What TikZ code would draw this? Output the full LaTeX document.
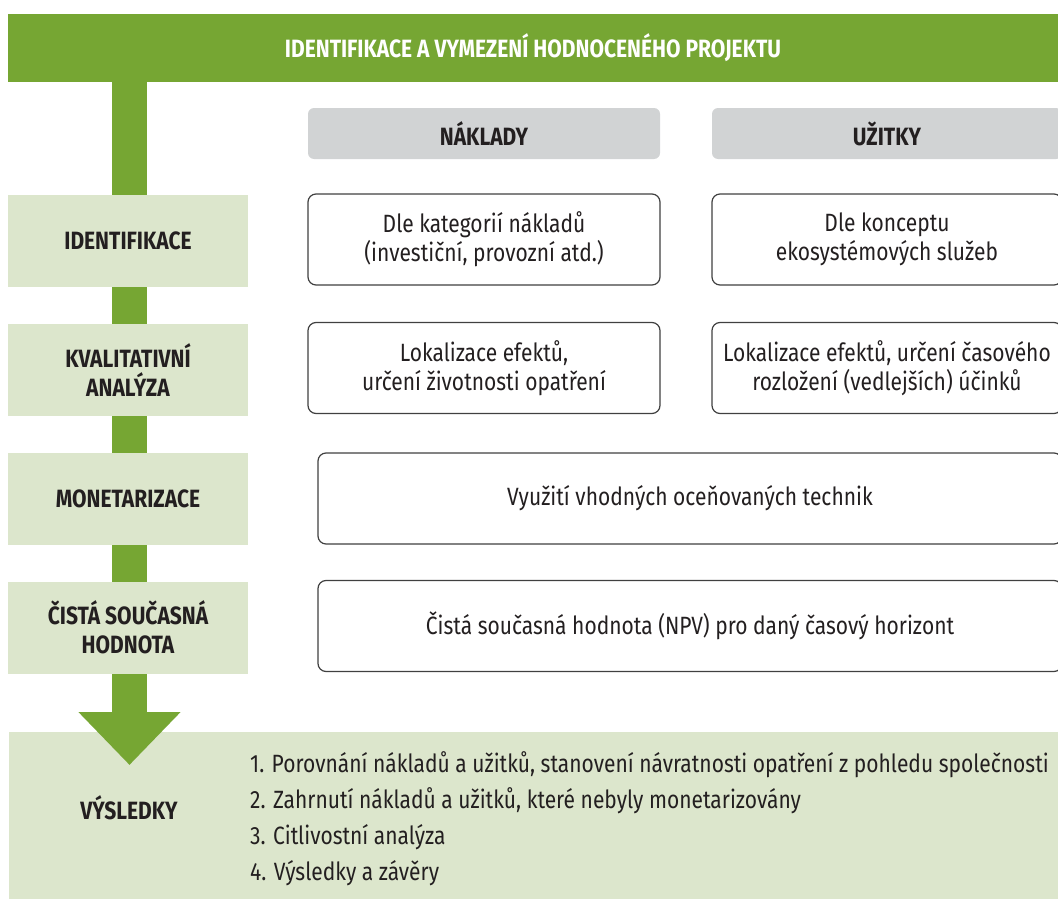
\documentclass[tikz,border=0pt]{standalone}
\usepackage{fontspec}
\setmainfont{Fira Sans}[FakeStretch=0.84]
\usetikzlibrary{arrows.meta, positioning}
\definecolor{projgreen}{RGB}{118, 166, 51}
\definecolor{projlight}{RGB}{220, 230, 204}
\definecolor{projgray}{RGB}{209, 211, 212}
\definecolor{projtext}{RGB}{35, 31, 32}
\definecolor{projline}{RGB}{64, 64, 64}
\tikzstyle{banner} = [fill=projgreen, text=white, font=\fontsize{25}{29}\selectfont\bfseries, minimum width=1050pt, minimum height=68pt, inner sep=0pt]
\tikzstyle{stagebox} = [fill=projlight, text=projtext, font=\fontsize{25}{29}\selectfont\bfseries, align=center, minimum width=240pt, minimum height=92pt, inner sep=0pt]
\tikzstyle{headbox} = [fill=projgray, text=projtext, rounded corners=6pt, font=\fontsize{25}{29}\selectfont\bfseries, minimum width=352pt, minimum height=51pt, inner sep=0pt]
\tikzstyle{infobox} = [draw=projline, line width=1.2pt, fill=white, text=projtext, rounded corners=8pt, font=\fontsize{25}{29}\selectfont, align=center, minimum height=91pt, inner sep=0pt]
\tikzstyle{flowarrow} = [projgreen, line width=35pt, -{Triangle[width=99pt, length=53pt]}]

\begin{document}
\begin{tikzpicture}[x=1pt, y=-1pt]
\useasboundingbox (0,0) rectangle (1058,899);

% Project frame
\node[banner] (projekt) at (533,48) {IDENTIFIKACE A VYMEZENÍ HODNOCENÉHO PROJEKTU};

% Results
\node[fill=projlight, minimum width=1049pt, minimum height=167pt, inner sep=0pt] (vysledky) at (533.5,815.5) {};
\node[font=\fontsize{25}{29}\selectfont\bfseries, text=projtext] (vyslabel) at (129,808) {VÝSLEDKY};
\foreach \i/\txt in {1/{Porovnání nákladů a užitků, stanovení návratnosti opatření z pohledu společnosti}, 2/{Zahrnutí nákladů a užitků, které nebyly monetarizovány}, 3/{Citlivostní analýza}, 4/{Výsledky a závěry}} {
    \node[anchor=west, text=projtext, font=\fontsize{25}{29}\selectfont, inner sep=0pt] (bod\i) at (250,729+36*\i) {\i. \txt};
}

% Flow arrow
\coordinate (tip) at (129.5,765);
\draw[flowarrow] (projekt.south -| tip) -- (tip);

% Stages
\foreach \y/\name/\txt in {241/ident/IDENTIFIKACE, 370/kval/{KVALITATIVNÍ\\ANALÝZA}, 499/monet/MONETARIZACE, 627.5/npv/{ČISTÁ SOUČASNÁ\\HODNOTA}} {
    \node[stagebox] (\name) at (128,\y) {\txt};
}

% Costs and benefits
\node[headbox] (naklady) at (484,133.5) {NÁKLADY};
\node[headbox, minimum width=350pt] (uzitky) at (887,133.5) {UŽITKY};

\node[infobox, minimum width=352pt] (nakl1) at (484,239.5) {Dle kategorií nákladů\\(investiční, provozní atd.)};
\node[infobox, minimum width=350pt] (uzit1) at (887,239.5) {Dle konceptu\\ekosystémových služeb};
\node[infobox, minimum width=352pt] (nakl2) at (484,368) {Lokalizace efektů,\\určení životnosti opatření};
\node[infobox, minimum width=350pt] (uzit2) at (887,368) {Lokalizace efektů, určení časového\\rozložení (vedlejších) účinků};
\node[infobox, minimum width=744pt] (oceneni) at (690,498.5) {Využití vhodných oceňovaných technik};
\node[infobox, minimum width=744pt] (hodnota) at (690,626) {Čistá současná hodnota (NPV) pro daný časový horizont};
\end{tikzpicture}
\end{document}
